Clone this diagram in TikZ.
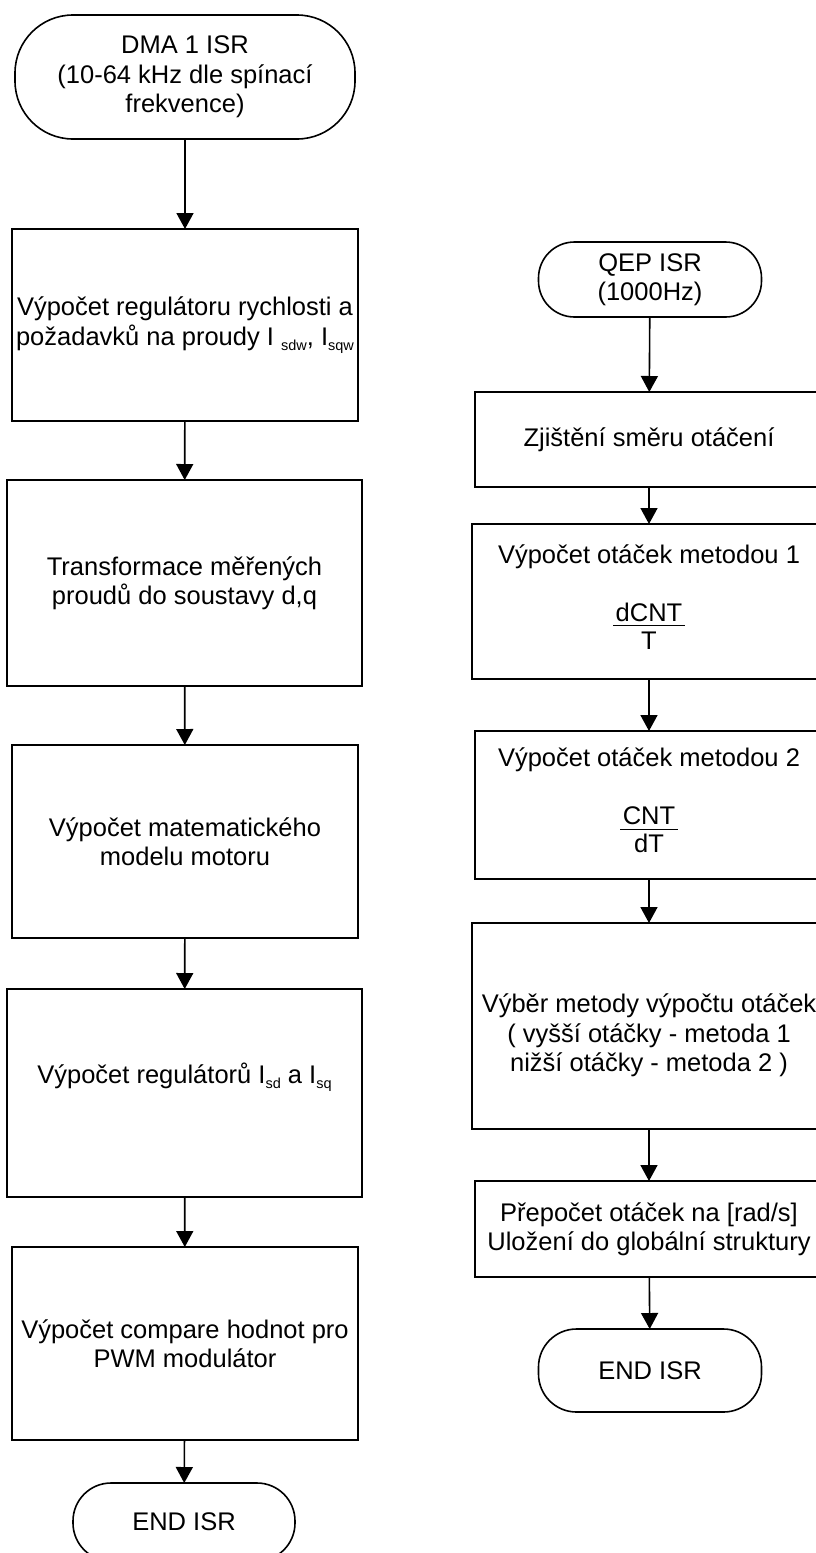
\documentclass[tikz,border=0pt]{standalone}
\usepackage{fontspec}
\setmainfont{Liberation Sans}
\usetikzlibrary{arrows.meta}

% stacked fraction drawn with a rule, in the text font
\newcommand\ratio[2]{{\setlength\arrayrulewidth{1.2pt}%
  \begin{tabular}[t]{@{\hspace{2.5pt}}c@{\hspace{2.5pt}}}#1\\[-5pt]\hline\rule{0pt}{23pt}#2\end{tabular}}}
% small lowered index after a current symbol
\newcommand\idx[1]{\raisebox{-5pt}{\fontsize{14.5}{15}\selectfont #1}}

\tikzset{
  every node/.style={font=\fontsize{25.5}{29.5}\selectfont, align=center, inner sep=0pt, outer sep=0pt},
  stepbox/.style={draw, line width=1.6pt, rectangle, minimum width=#1},
  terminal/.style={draw, line width=1.6pt, rectangle},
  flow/.style={line width=1.6pt, -{Triangle[width=17pt,length=16pt]}}
}

\begin{document}
\begin{tikzpicture}[x=1pt,y=-1pt]
\useasboundingbox (0,0) rectangle (816,1553);
\clip (0,0) rectangle (816,1553);

% ---- DMA 1 ISR branch ----
\node[terminal, rounded corners=58pt, minimum width=340pt, minimum height=124pt] (s1) at (185,77)
  {DMA 1 ISR\\(10-64 kHz dle spínací\\frekvence)};
\node[stepbox=346pt, minimum height=192pt] (a1) at (185,325)
  {Výpočet regulátoru rychlosti a\\požadavků na proudy I \idx{sdw}, I\idx{sqw}};
\node[stepbox=355pt, minimum height=206pt] (a2) at (184.5,583)
  {Transformace měřených\\proudů do soustavy d,q};
\node[stepbox=346pt, minimum height=193pt] (a3) at (185,841.5)
  {Výpočet matematického\\modelu motoru};
\node[stepbox=355pt, minimum height=208pt] (a4) at (184.5,1093)
  {Výpočet regulátorů I\idx{sd} a I\idx{sq}\rule[-40pt]{0pt}{0pt}};
\node[stepbox=346pt, minimum height=193pt] (a5) at (185,1343.5)
  {Výpočet compare hodnot pro\\PWM modulátor};
\node[terminal, rounded corners=38pt, minimum width=222pt, minimum height=78pt] (e1) at (184,1522)
  {END ISR};

\draw[flow] (s1) -- (a1);
\draw[flow] (a1) -- (a2);
\draw[flow] (a2) -- (a3);
\draw[flow] (a3) -- (a4);
\draw[flow] (a4) -- (a5);
\draw[flow] (a5) -- (e1);

% ---- QEP ISR branch ----
\node[terminal, rounded corners=36pt, minimum width=223pt, minimum height=75pt] (s2) at (650,279.5)
  {QEP ISR\\(1000Hz)};
\node[stepbox=348pt, minimum height=95pt] (q1) at (649,439.5)
  {Zjištění směru otáčení};
\node[stepbox=354pt, minimum height=155pt] (q2) at (649,601.5)
  {Výpočet otáček metodou 1\\[28.5pt]\ratio{dCNT}{T}};
\node[stepbox=348pt, minimum height=148pt] (q3) at (649,805)
  {Výpočet otáček metodou 2\\[28.5pt]\ratio{CNT}{dT}};
\node[stepbox=354pt, minimum height=206pt] (q4) at (649,1026)
  {\rule{0pt}{38pt}Výběr metody výpočtu otáček\\( vyšší otáčky - metoda 1\\nižší otáčky - metoda 2 )};
\node[stepbox=348pt, minimum height=96pt] (q5) at (649,1229)
  {Přepočet otáček na [rad/s]\\Uložení do globální struktury};
\node[terminal, rounded corners=38pt, minimum width=223pt, minimum height=83pt] (e2) at (650,1370.5)
  {END ISR};

\draw[flow] (s2) -- (q1);
\draw[flow] (q1) -- (q2);
\draw[flow] (q2) -- (q3);
\draw[flow] (q3) -- (q4);
\draw[flow] (q4) -- (q5);
\draw[flow] (q5) -- (e2);
\end{tikzpicture}
\end{document}
